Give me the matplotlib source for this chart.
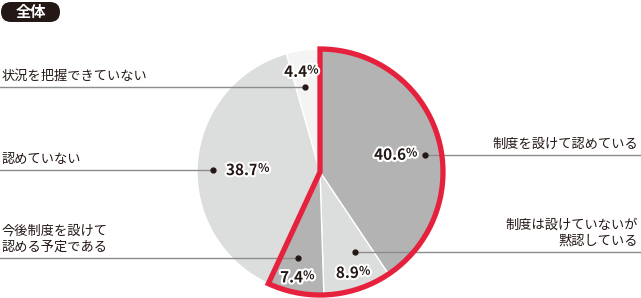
import numpy as np
import matplotlib
matplotlib.use("Agg")
import matplotlib.pyplot as plt
import matplotlib.patheffects as pe
from matplotlib.patches import Wedge, FancyBboxPatch

plt.rcParams["font.family"] = ["Noto Sans CJK JP", "DejaVu Sans"]

# data (clockwise from 12 o'clock)
labels = ["制度を設けて認めている", "制度は設けていないが\n黙認している",
          "今後制度を設けて\n認める予定である", "認めていない", "状況を把握できていない"]
values = [40.6, 8.9, 7.4, 38.7, 4.4]
colors = ["#b3b3b3", "#dcdddd", "#b3b3b3", "#dcdddd", "#f4f4f4"]
highlighted = [True, True, True, False, False]  # red outline group
title = "全体"

W, H = 641, 298
cx, cy, R = 320, H - 172, 123

fig = plt.figure(figsize=(W / 100, H / 100), dpi=100)
ax = fig.add_axes([0, 0, 1, 1])

wedges, _ = ax.pie(values, colors=colors, startangle=90, counterclock=False,
                   center=(cx, cy), radius=R,
                   wedgeprops=dict(edgecolor="white", linewidth=1.0))

# red outline around the "allowed" group
share = sum(v for v, h in zip(values, highlighted) if h) / sum(values) * 360
ax.add_patch(Wedge((cx, cy), R, 90 - share, 90, fill=False,
                   edgecolor="#e5213d", linewidth=3.8, joinstyle="miter", zorder=5))

# layout: per slice (pct radius, pct angle offset, dot radius, dot angle offset,
#                    label side, label y in px)
layout = [
    (77, -4, 106, -8, "right", 155),
    (106, 0, 87, 6, "right", 252),
    (108, -1, 89, -3, "left", 258),
    (73, 3, 107, 4, "left", 170),
    (102, 3, 86, 2, "left", 87),
]

mids = []
start = 90
for v in values:
    a = v / sum(values) * 360
    mids.append(start - a / 2)
    start -= a

stroke = [pe.withStroke(linewidth=3, foreground="white")]
for v, lab, m, (pr, po, dr, do, side, ly) in zip(values, labels, mids, layout):
    ang = np.radians(m + po)
    px, py = cx + pr * np.cos(ang), cy + pr * np.sin(ang)
    t = ax.text(px - 5, py, f"{v:.1f}", ha="center", va="center", fontsize=11,
                fontweight="bold", color="#231815", path_effects=stroke, zorder=6)
    ax.annotate("%", xy=(1, 0.2), xycoords=t, ha="left", va="bottom", fontsize=8.5,
                fontweight="bold", color="#231815", path_effects=stroke, zorder=6)

    dang = np.radians(m + do)
    dx = cx + dr * np.cos(dang)
    dy = H - ly
    if side == "left":
        ax.plot([0, dx], [dy, dy], color="#8c8c8c", lw=1.0, zorder=4)
        ax.text(2, dy + 4, lab, ha="left", va="bottom", fontsize=9.5,
                color="#231815", linespacing=1.35)
    else:
        ax.plot([dx, W], [dy, dy], color="#8c8c8c", lw=1.0, zorder=4)
        ax.text(W - 3, dy + 4, lab, ha="right", va="bottom", fontsize=9.5,
                color="#231815", linespacing=1.35, multialignment="right")
    ax.plot(dx, dy, "o", color="#231815", ms=3.5, zorder=7)

# header tag
ax.add_patch(FancyBboxPatch((1, H - 22), 59, 20, boxstyle="round,pad=0,rounding_size=10",
                            facecolor="#231815", edgecolor="none"))
ax.text(30.5, H - 12.5, title, ha="center", va="center", fontsize=11, fontweight="bold",
        color="white")

ax.set_xlim(0, W)
ax.set_ylim(0, H)
ax.axis("off")
fig.savefig("out.png", dpi=100)
